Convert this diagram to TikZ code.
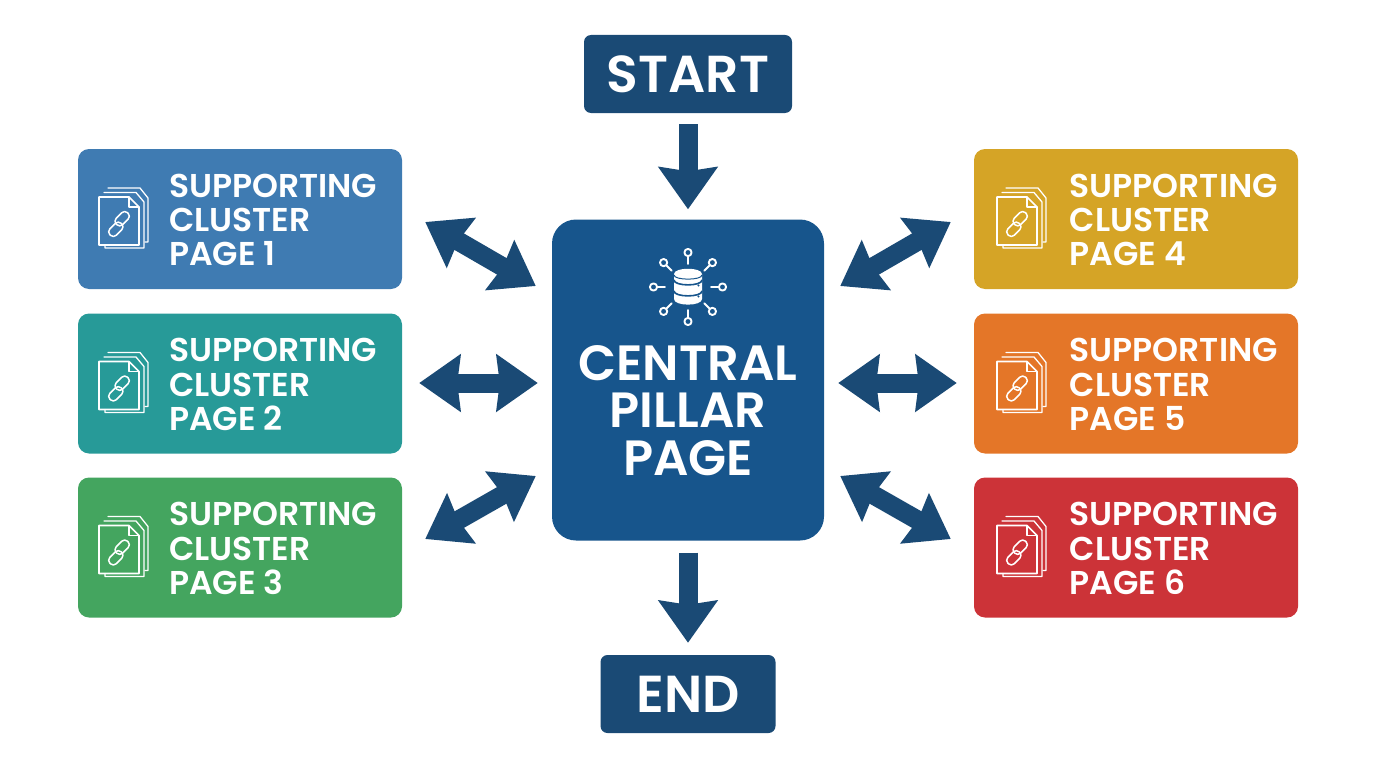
\documentclass[tikz,border=0pt]{standalone}
\usepackage{fontspec}
\setmainfont{Poppins}[BoldFont={Poppins SemiBold}]
\usetikzlibrary{arrows.meta,calc}
\definecolor{navy}{HTML}{1A4A75}
\definecolor{pillarblue}{HTML}{17558C}
\definecolor{cardA}{HTML}{3F7BB2}
\definecolor{cardB}{HTML}{279A98}
\definecolor{cardC}{HTML}{44A55F}
\definecolor{cardD}{HTML}{D5A426}
\definecolor{cardE}{HTML}{E47628}
\definecolor{cardF}{HTML}{CC3338}
\tikzset{
  x=1pt,y=-1pt,
  cardbox/.style={rounded corners=11pt,minimum width=324pt,minimum height=140pt,inner sep=0pt,fill=#1},
  cardtext/.style={text=white,font=\bfseries\fontsize{33}{34.3}\selectfont,align=left,anchor=west,inner sep=0pt},
  termbox/.style={fill=navy,rounded corners=7pt,text=white,inner sep=0pt,font=\bfseries\fontsize{52}{56}\selectfont},
  pillarbox/.style={fill=pillarblue,rounded corners=24pt,minimum width=272pt,minimum height=321pt,inner sep=0pt},
  pillartext/.style={text=white,font=\bfseries\fontsize{49.5}{47.5}\selectfont,align=center,inner sep=0pt},
  biarrow/.style={draw=navy,line width=19pt,{Stealth[length=41pt,width=56pt,inset=3pt,fill=navy]}-{Stealth[length=41pt,width=56pt,inset=3pt,fill=navy]}},
  oneway/.style={draw=navy,line width=19pt,-{Stealth[length=42pt,width=58pt,inset=4pt,fill=navy]}},
  iconline/.style={draw=white,line width=1.6pt,line join=round,line cap=round},
}
\newcommand{\clustericon}[1]{%
  \begin{scope}[shift={#1}]
    \draw[iconline,line width=1.3pt] (9,-31) -- (41,-31) -- (49,-21) -- (49,23) -- (46,23);
    \draw[iconline,line width=1.3pt] (5,-26.5) -- (37,-26.5) -- (45,-17) -- (45,29) -- (6,29) -- (6,26);
    \draw[iconline] (0,-22) -- (30,-22) -- (40,-12) -- (40,26) -- (0,26) -- cycle;
    \draw[iconline,line width=1.2pt] (30,-22) -- (30,-12) -- (40,-12);
    \begin{scope}[shift={(20,5)},rotate=45]
      \draw[iconline,line width=1.5pt,rounded corners=4pt] (-14,-3) rectangle (2,6);
      \draw[iconline,line width=1.5pt,rounded corners=4pt] (-2,-6) rectangle (14,3);
    \end{scope}
  \end{scope}}
\begin{document}
\begin{tikzpicture}
\useasboundingbox (0,0) rectangle (1376,768);
% terminals
\node[termbox,minimum width=208pt,minimum height=78pt] (start) at (688,74) {START};
\node[termbox,minimum width=175pt,minimum height=78pt] (end) at (688,694) {END};
% pillar
\node[pillarbox] (pillar) at (688,380) {};
\node[pillartext] (pillarlabel) at (688,410.5) {CENTRAL\\PILLAR\\PAGE};
% cards
\node[cardbox=cardA] (card1) at (240,219) {};
\node[cardbox=cardB] (card2) at (240,383.5) {};
\node[cardbox=cardC] (card3) at (240,547.5) {};
\node[cardbox=cardD] (card4) at (1136,219) {};
\node[cardbox=cardE] (card5) at (1136,383.5) {};
\node[cardbox=cardF] (card6) at (1136,547.5) {};
\node[cardtext] (t1) at (169,220) {SUPPORTING\\CLUSTER\\PAGE 1};
\node[cardtext] (t2) at (169,384.5) {SUPPORTING\\CLUSTER\\PAGE 2};
\node[cardtext] (t3) at (169,548.5) {SUPPORTING\\CLUSTER\\PAGE 3};
\node[cardtext] (t4) at (1069.5,220) {SUPPORTING\\CLUSTER\\PAGE 4};
\node[cardtext] (t5) at (1069.5,384.5) {SUPPORTING\\CLUSTER\\PAGE 5};
\node[cardtext] (t6) at (1069.5,548.5) {SUPPORTING\\CLUSTER\\PAGE 6};
% icons
\clustericon{(99,219)}
\clustericon{(99,383.5)}
\clustericon{(99,547.5)}
\clustericon{(997,219)}
\clustericon{(997,383.5)}
\clustericon{(997,547.5)}
% database icon
\begin{scope}[shift={(688,287)}]
  \foreach \a in {0,45,...,315}{
    \draw[iconline,line width=1.9pt] (\a:23) -- (\a:30.5);
    \draw[iconline,line width=1.9pt] (\a:34.5) circle (3.6);
  }
  \fill[white] (-14,-13) .. controls (-14,-20) and (14,-20) .. (14,-13) -- (14,12) .. controls (14,19.5) and (-14,19.5) .. (-14,12) -- cycle;
  \draw[pillarblue,line width=1pt] (-14,-12) .. controls (-14,-6.5) and (14,-6.5) .. (14,-12);
  \draw[pillarblue,line width=1.6pt] (-14,-7) .. controls (-14,-0.5) and (14,-0.5) .. (14,-7);
  \draw[pillarblue,line width=1.6pt] (-14,4) .. controls (-14,10.5) and (14,10.5) .. (14,4);
  \fill[pillarblue] (10.5,-1.5) circle (1.1) (10.5,9.5) circle (1.1);
\end{scope}
% connectors
\draw[oneway,shorten <=11pt,shorten >=10pt] (start.south) -- (pillar.north);
\draw[oneway,shorten <=12pt,shorten >=12pt] (pillar.south) -- (end.north);
\draw[biarrow] ($(card1.east)+(23,3)$) -- ($(pillar.west)+(-16,-94)$);
\draw[biarrow] ($(card2.east)+(17,-0.5)$) -- ($(pillar.west)+(-14,3)$);
\draw[biarrow] ($(card3.east)+(23,-8.5)$) -- ($(pillar.west)+(-16,96)$);
\draw[biarrow] ($(card4.west)+(-23,3)$) -- ($(pillar.east)+(16,-94)$);
\draw[biarrow] ($(card5.west)+(-17,-0.5)$) -- ($(pillar.east)+(14,3)$);
\draw[biarrow] ($(card6.west)+(-23,-8.5)$) -- ($(pillar.east)+(16,96)$);
\end{tikzpicture}
\end{document}
